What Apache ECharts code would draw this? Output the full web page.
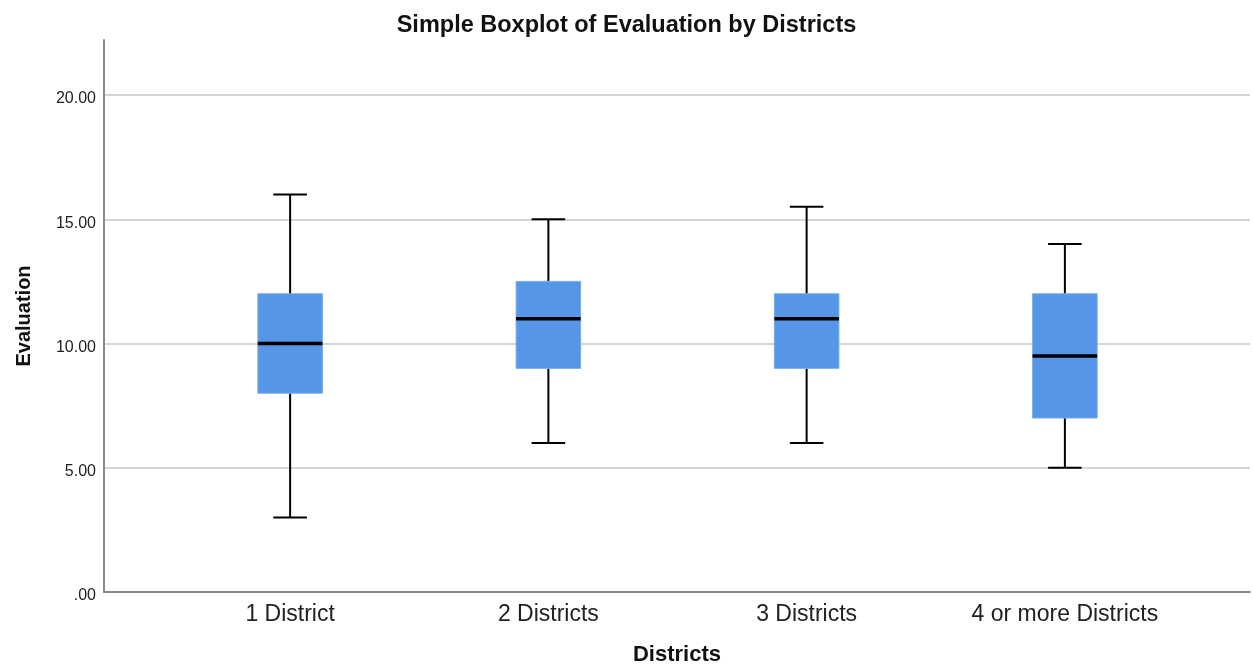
<!DOCTYPE html>
<html>
<head>
<meta charset="utf-8">
<script src="https://cdn.jsdelivr.net/npm/echarts@6/dist/echarts.min.js"></script>
<style>html,body{margin:0;padding:0;background:#fff}#c{width:1253px;height:671px}</style>
</head>
<body>
<div id="c"></div>
<script>
const categories = ['1 District', '2 Districts', '3 Districts', '4 or more Districts'];
const whiskerLow = [3, 6, 6, 5];
const q1 = [8, 9, 9, 7];
const medians = [10, 11, 11, 9.5];
const q3 = [12, 12.5, 12, 12];
const whiskerHigh = [16, 15, 15.5, 14];
const yTicks = [0, 5, 10, 15, 20];

const boxData = categories.map((c, i) => [i, whiskerLow[i], q1[i], medians[i], q3[i], whiskerHigh[i]]);

const chart = echarts.init(document.getElementById('c'));
const fontFam = 'Liberation Sans, Arial, sans-serif';

chart.setOption({
  animation: false,
  backgroundColor: '#fff',
  title: {
    text: 'Simple Boxplot of Evaluation by Districts',
    left: 'center',
    top: 9,
    textStyle: { fontFamily: fontFam, fontSize: 23.5, fontWeight: 'bold', color: '#111' }
  },
  grid: [
    { left: 104, right: 3, top: 40, bottom: 79 },
    { left: 104, right: 3, top: 95, bottom: 79 },
    { left: 161, right: 59, top: 95, bottom: 79 }
  ],
  xAxis: [
    {
      gridIndex: 0, type: 'value', min: 0, max: 1,
      axisLine: { show: true, lineStyle: { color: '#8a8a8a', width: 2 } },
      axisTick: { show: false }, axisLabel: { show: false }, splitLine: { show: false },
      name: 'Districts', nameLocation: 'middle', nameGap: 52,
      nameTextStyle: { fontFamily: fontFam, fontSize: 22, fontWeight: 'bold', color: '#111' }
    },
    {
      gridIndex: 1, type: 'value', min: 0, max: 1, show: false
    },
    {
      gridIndex: 2, type: 'category', data: categories, boundaryGap: true,
      axisLine: { show: false }, axisTick: { show: false },
      axisLabel: { fontFamily: fontFam, fontSize: 23, color: '#222', margin: 11 },
      splitLine: { show: false }
    }
  ],
  yAxis: [
    {
      gridIndex: 0, type: 'value', min: 0, max: 22.2,
      axisLine: { show: true, lineStyle: { color: '#8a8a8a', width: 2 } },
      axisTick: { show: false }, axisLabel: { show: false }, splitLine: { show: false },
      name: 'Evaluation', nameLocation: 'middle', nameGap: 70, nameRotate: 90,
      nameTextStyle: { fontFamily: fontFam, fontSize: 20, fontWeight: 'bold', color: '#111' }
    },
    {
      gridIndex: 1, type: 'value', min: yTicks[0], max: yTicks[yTicks.length - 1], interval: 5,
      axisLine: { show: false }, axisTick: { show: false },
      axisLabel: {
        fontFamily: fontFam, fontSize: 16, color: '#222', margin: 8,
        verticalAlign: 'top', lineHeight: 8,
        formatter: v => (v === 0 ? '.00' : v.toFixed(2))
      },
      splitLine: { show: true, lineStyle: { color: '#c8c8c8', width: 1.5 } }
    },
    {
      gridIndex: 2, type: 'value', min: yTicks[0], max: yTicks[yTicks.length - 1], show: false
    }
  ],
  series: [{
    type: 'custom',
    xAxisIndex: 2,
    yAxisIndex: 2,
    data: boxData,
    z: 5,
    renderItem: function (params, api) {
      const x = api.value(0);
      const band = api.size([1, 0])[0];
      const boxW = band * 0.25;
      const capW = boxW * 0.52;
      const pLow = api.coord([x, api.value(1)]);
      const pQ1 = api.coord([x, api.value(2)]);
      const pMed = api.coord([x, api.value(3)]);
      const pQ3 = api.coord([x, api.value(4)]);
      const pHigh = api.coord([x, api.value(5)]);
      const cx = pMed[0];
      const lineStyle = { stroke: '#000', lineWidth: 2 };
      return {
        type: 'group',
        children: [
          { type: 'line', shape: { x1: cx, y1: pQ3[1], x2: cx, y2: pHigh[1] }, style: lineStyle },
          { type: 'line', shape: { x1: cx, y1: pQ1[1], x2: cx, y2: pLow[1] }, style: lineStyle },
          { type: 'line', shape: { x1: cx - capW / 2, y1: pHigh[1], x2: cx + capW / 2, y2: pHigh[1] }, style: lineStyle },
          { type: 'line', shape: { x1: cx - capW / 2, y1: pLow[1], x2: cx + capW / 2, y2: pLow[1] }, style: lineStyle },
          { type: 'rect', shape: { x: cx - boxW / 2, y: pQ3[1], width: boxW, height: pQ1[1] - pQ3[1] },
            style: { fill: '#5596e6', stroke: '#79acee', lineWidth: 1 } },
          { type: 'line', shape: { x1: cx - boxW / 2, y1: pMed[1], x2: cx + boxW / 2, y2: pMed[1] },
            style: { stroke: '#000', lineWidth: 3.5 } }
        ]
      };
    }
  }]
});
</script>
</body>
</html>
